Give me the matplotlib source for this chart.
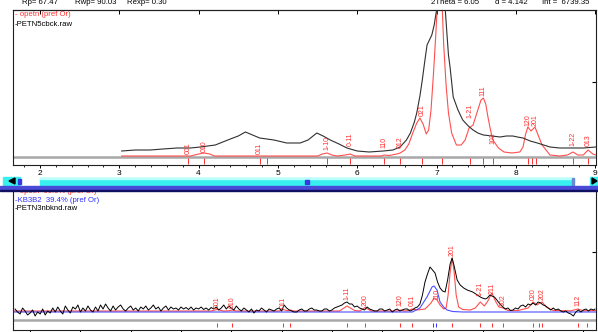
import matplotlib
matplotlib.use("Agg")
import matplotlib.pyplot as plt
from matplotlib.patches import Rectangle, Polygon

plt.rcParams["font.family"] = ["Liberation Sans", "DejaVu Sans"]

W, H = 598, 332

# ---- top pattern (PETN5cbck.raw vs calc opetn) ----
top_obs_tth = [3.03, 3.2, 3.39, 3.55, 3.73, 3.9, 4.02, 4.21, 4.40, 4.50, 4.59, 4.68, 4.77, 4.95,
               5.11, 5.28, 5.38, 5.49, 5.57, 5.66, 5.77, 5.87, 6.0, 6.15, 6.33, 6.45, 6.54, 6.62,
               6.67, 6.72, 6.75, 6.79, 6.82, 6.85, 6.88, 6.91, 6.94, 6.97, 7.00, 7.02, 7.09, 7.11,
               7.13, 7.15, 7.17, 7.19, 7.21, 7.27, 7.33, 7.40, 7.46, 7.52, 7.59, 7.70, 7.80, 7.88,
               7.96, 8.02, 8.09, 8.18, 8.27, 8.35, 8.43, 8.55, 8.65, 8.75, 8.85, 9.01]
top_obs_int = [60, 70, 70, 80, 90, 90, 100, 120, 180, 210, 250, 220, 190, 170,
               140, 140, 170, 240, 210, 170, 130, 90, 60, 50, 60, 70, 100, 170,
               240, 350, 440, 610, 770, 950, 1120, 1170, 1220, 1320, 1470, 1770, 1770, 1470,
               1240, 1020, 900, 750, 600, 470, 370, 310, 270, 240, 220, 210, 200, 210,
               210, 200, 190, 160, 140, 120, 100, 90, 90, 90, 90, 100]

top_calc_tth = [3.03, 3.9, 3.95, 4.0, 4.07, 4.14, 4.2, 5.5, 5.56, 5.62, 5.68, 5.75, 5.85, 5.91,
                5.97, 6.3, 6.34, 6.4, 6.5, 6.54, 6.6, 6.65, 6.70, 6.75, 6.79, 6.83, 6.87, 6.90,
                6.93, 6.96, 6.99, 7.01, 7.02, 7.05, 7.07, 7.09, 7.12, 7.15, 7.19, 7.25, 7.31, 7.36,
                7.41, 7.46, 7.52, 7.56, 7.59, 7.62, 7.65, 7.68, 7.71, 7.78, 7.85, 7.95, 8.05, 8.09,
                8.12, 8.15, 8.19, 8.24, 8.28, 8.33, 8.43, 8.55, 8.65, 8.72, 8.78, 8.85, 8.91, 8.97, 9.01]
top_calc_int = [10, 10, 20, 30, 40, 30, 10, 10, 30, 40, 20, 10, 20, 30,
                10, 10, 20, 15, 30, 40, 70, 130, 240, 340, 390, 330, 230, 270,
                470, 820, 1220, 1520, 1800, 1800, 1520, 1120, 720, 440, 240, 120, 120, 170,
                290, 320, 470, 570, 590, 530, 390, 270, 170, 90, 50, 40, 50, 100,
                220, 300, 260, 300, 220, 120, 20, 10, 20, 50, 20, 20, 70, 30, 20]

top_refl_tth = [3.87, 4.07, 4.77, 4.86, 5.62, 5.91, 6.34, 6.54, 6.82, 7.07, 7.42, 7.59, 7.71,
                8.15, 8.20, 8.25, 8.72, 8.91]
top_hkl_tth = [3.87, 4.07, 4.77, 5.62, 5.91, 6.34, 6.54, 6.82, 7.42, 7.59, 7.71, 8.15, 8.24, 8.72, 8.91]
top_hkl_txt = ["001", "010", "011", "1-10", "0-11", "110", "012", "021", "1-21", "111", "102",
               "120", "201", "1-22", "013"]
top_hkl_int = [20, 30, 20, 50, 90, 70, 70, 390, 370, 600, 120, 300, 300, 100, 100]

# ---- bottom pattern (PETN3nbknd.raw, opetn + KB3B2) ----
# background region, sampled every 0.05 deg from 1.70 to 9.70
bot_bg_tth = [round(1.70 + 0.05 * k, 2) for k in range(161)]
bot_bg_int = [110, 80, 60, 120, 90, 50, 70, 100, 40, 80, 60, 110, 50, 90, 70, 120,
              80, 130, 90, 60, 140, 100, 70, 130, 110, 150, 80, 120, 90, 140, 100, 80,
              130, 90, 150, 110, 160, 120, 90, 140, 100, 130, 150, 110, 90, 120, 140, 100,
              120, 90, 130, 110, 140, 100, 120, 150, 110, 130, 90, 120, 140, 100, 130, 110,
              120, 100, 130, 110, 125, 105, 130, 100, 120, 110, 130, 105, 120, 100, 125, 110,
              130, 100, 120, 150, 110, 140, 120, 100, 140, 110, 90, 120, 100, 80, 110, 70,
              100, 90, 120, 100, 80, 110, 100, 90, 110, 120, 90, 150, 120, 100, 90, 80,
              80, 100, 110, 90, 90, 110, 120, 100, 100, 90, 90, 110, 110, 90, 100, 120,
              130, 140, 150, 170, 180, 160, 160, 130, 140, 120, 110, 100, 130, 110, 100, 90,
              90, 110, 110, 90, 100, 110, 80, 100, 110, 90, 100, 110, 110, 90, 100, 120,
              130]
# peak region and tail
bot_pk_tth = [9.75, 9.8, 9.85, 9.9, 9.95, 10.0, 10.05, 10.1, 10.15, 10.2, 10.25, 10.3, 10.35,
              10.39, 10.43, 10.49, 10.55, 10.62, 10.69, 10.8, 10.89, 10.95, 10.99, 11.05, 11.09,
              11.14, 11.18, 11.23, 11.28, 11.34, 11.4, 11.45, 11.5, 11.55, 11.6, 11.65, 11.7,
              11.75, 11.8, 11.85, 11.9, 11.95, 12.0, 12.05, 12.1, 12.15, 12.2, 12.25, 12.3,
              12.35, 12.4, 12.45, 12.5, 12.55, 12.6, 12.65, 12.7, 12.75, 12.8, 12.85, 12.9,
              12.95, 13.0, 13.05, 13.1, 13.15, 13.2, 13.23]
bot_pk_int = [160, 250, 380, 460, 530, 500, 470, 380, 320, 290, 280, 400, 560,
              620, 540, 400, 350, 320, 300, 280, 250, 230, 220, 210, 220,
              250, 240, 230, 200, 160, 130, 110, 120, 95, 100, 120, 110,
              140, 150, 130, 160, 150, 170, 150, 180, 170, 150, 140, 120,
              100, 120, 100, 110, 90, 80, 90, 70, 60, 40, 80, 100,
              80, 100, 110, 90, 110, 100, 110]

bot_kb_tth = [1.66, 9.6, 9.75, 9.89, 9.99, 10.03, 10.09, 10.15, 10.22, 10.29, 10.4, 10.6, 13.25]
bot_kb_int = [80, 80, 120, 230, 330, 340, 300, 180, 130, 100, 85, 80, 80]

bot_calc_tth = [1.66, 5.6, 5.72, 5.85, 5.95, 6.02, 6.1, 6.95, 7.03, 7.12, 7.17, 7.25, 8.15, 8.3,
                8.45, 8.55, 8.66, 8.78, 9.3, 9.36, 9.45, 9.52, 9.59, 9.7, 9.85, 9.97, 10.03, 10.09,
                10.15, 10.22, 10.27, 10.31, 10.35, 10.39, 10.43, 10.47, 10.52, 10.6, 10.75, 10.85,
                10.95, 11.03, 11.1, 11.18, 11.25, 11.32, 11.4, 11.5, 11.7, 11.9, 12.0, 12.08, 12.13,
                12.18, 12.26, 12.4, 12.75, 12.89, 13.0, 13.25]
bot_calc_int = [90, 90, 105, 90, 92, 100, 90, 90, 105, 92, 100, 90, 90, 140,
                95, 90, 125, 90, 90, 100, 90, 95, 110, 100, 110, 170, 220, 200,
                150, 110, 120, 250, 480, 620, 480, 250, 130, 105, 100, 120,
                180, 140, 190, 270, 190, 130, 120, 95, 95, 120, 180, 150, 170,
                180, 130, 95, 92, 110, 92, 95]

bot_refl_tth = [5.72, 6.02, 7.03, 7.17, 8.30, 8.66, 9.36, 9.59, 10.39, 10.95, 11.18, 11.40,
                12.00, 12.12, 12.18, 12.89, 13.07]
bot_kb_refl_tth = [10.01, 10.07]
bot_hkl_tth = [5.72, 6.02, 7.03, 8.30, 8.66, 9.36, 9.59, 10.09, 10.39, 10.95, 11.18, 11.40,
               12.00, 12.18, 12.89]
bot_hkl_txt = ["001", "010", "011", "1-11", "200", "120", "011", "110", "201", "1-21", "211",
               "102", "020", "202", "112"]
bot_hkl_int = [100, 100, 100, 180, 130, 120, 120, 180, 630, 220, 250, 120, 180, 180, 120]

RED = "#ff3030"
BLUE = "#3030ff"


def fx(x):
    return x / W


def fy(y):
    return 1 - y / H


def px_rect(x0, y0, x1, y1, **kw):
    fig.add_artist(Rectangle((fx(x0), fy(y1)), (x1 - x0) / W, (y1 - y0) / H,
                             transform=fig.transFigure, **kw))


fig = plt.figure(figsize=(W / 100, H / 100), dpi=100)

# --- top panel ---
ax1 = fig.add_axes([fx(13), fy(165), (596 - 13) / W, (165 - 10) / H])
ax1.axhline(0, color="#a8a8a8", lw=1.8, zorder=1)
ax1.plot(top_calc_tth, top_calc_int, color=RED, lw=0.8, alpha=0.85, zorder=2)
ax1.plot(top_obs_tth, top_obs_int, color="#303030", lw=0.8, zorder=3)
ax1.vlines(top_refl_tth, -70, -10, color=RED, lw=0.7)
for t, s, v in zip(top_hkl_tth, top_hkl_txt, top_hkl_int):
    ax1.text(t, v + 15, s, rotation=90, ha="center", va="bottom", fontsize=5, color=RED)
ax1.set_xlim(1.66, 9.01)
ax1.set_ylim(-80, 1470)
ax1.set_xticks(range(2, 10))
ax1.set_xticks([2 + 0.2 * k for k in range(-1, 36)], minor=True)
ax1.tick_params(axis="x", which="major", length=2.5, width=0.7, pad=0.8, labelsize=6)
ax1.tick_params(axis="x", which="minor", length=1.5, width=0.6)
ax1.yaxis.set_ticks_position("right")
ax1.set_yticks([750])
ax1.tick_params(axis="y", direction="in", length=3, labelright=False)
sec = ax1.secondary_xaxis("top")
sec.set_xticks(range(2, 10))
sec.tick_params(direction="in", length=3, width=0.7, labeltop=False)
for sp in ax1.spines.values():
    sp.set_linewidth(0.8)
    sp.set_color("#202020")
sec.spines["top"].set_linewidth(0.8)

# --- bottom panel ---
ax2 = fig.add_axes([fx(13), fy(330), (596 - 13) / W, (330 - 190) / H])
ax2.axhline(0, color="#a8a8a8", lw=1.8, zorder=1)
ax2.plot(bot_calc_tth, bot_calc_int, color=RED, lw=0.8, alpha=0.85, zorder=2)
ax2.plot(bot_kb_tth, bot_kb_int, color=BLUE, lw=0.8, alpha=0.85, zorder=2)
ax2.plot(bot_bg_tth + bot_pk_tth, bot_bg_int + bot_pk_int, color="black", lw=0.7, zorder=3)
ax2.vlines(bot_refl_tth, -70, -30, color=RED, lw=0.7)
ax2.vlines(bot_kb_refl_tth, -70, -30, color=BLUE, lw=0.7)
for t, s, v in zip(bot_hkl_tth, bot_hkl_txt, bot_hkl_int):
    ax2.text(t, v + 15, s, rotation=90, ha="center", va="bottom", fontsize=5, color=RED)
ax2.set_xlim(1.66, 13.25)
ax2.set_ylim(-100, 1300)
ax2.set_xticks(range(2, 14))
ax2.tick_params(axis="x", length=4, width=0.7, labelbottom=False)
ax2.yaxis.set_ticks_position("right")
ax2.set_yticks([680])
ax2.tick_params(axis="y", direction="in", length=3, labelright=False)
for sp in ax2.spines.values():
    sp.set_linewidth(0.8)
    sp.set_color("#202020")

# --- header / legends ---
hdr = [(22, "Rp= 67.47"), (75, "Rwp= 90.03"), (127, "Rexp= 0.30"),
       (431, "2Theta = 6.05"), (495, "d = 4.142"), (542, "Int =  6739.35")]
for x, s in hdr:
    fig.text(fx(x), fy(2), s, fontsize=5.6, va="center", ha="left")
fig.text(fx(15), fy(15), "- opetn (pref Or)", fontsize=5.6, color=RED, va="center")
fig.text(fx(15), fy(24), "-PETN5cbck.raw", fontsize=5.6, color="black", va="center")
fig.text(fx(15), fy(191), "- opetn  60.6% (pref Or)", fontsize=5.6, color=RED, va="center")
fig.text(fx(15), fy(200), "-KB3B2  39.4% (pref Or)", fontsize=5.6, color=BLUE, va="center")
fig.text(fx(15), fy(209), "-PETN3nbknd.raw", fontsize=5.6, color="black", va="center")

# --- scrollbar and divider ---
px_rect(40, 178, 573, 185, color="#38f0f0", zorder=4)
px_rect(40, 178, 573, 179, color="#b8ffff", zorder=4)
px_rect(572, 178, 574, 185, color="#6a8ad8", zorder=4)
px_rect(305, 180, 309, 184, color="#3838e0", zorder=5)
px_rect(3, 177, 20, 185, color="#38f0f0", zorder=4)
px_rect(590, 177, 598, 185, color="#38f0f0", zorder=4)
px_rect(18, 179, 21, 184, color="#3838e0", zorder=5)
fig.add_artist(Polygon([[fx(9), fy(181)], [fx(15), fy(178)], [fx(15), fy(184)]],
                       closed=True, transform=fig.transFigure, color="black", zorder=6))
fig.add_artist(Polygon([[fx(597), fy(181)], [fx(592), fy(178)], [fx(592), fy(184)]],
                       closed=True, transform=fig.transFigure, color="black", zorder=6))
px_rect(0, 186, W, 190, color="#4a4ad8", zorder=5)
px_rect(0, 190, W, 191, color="#101060", zorder=5)

fig.savefig("out.png", dpi=100)
